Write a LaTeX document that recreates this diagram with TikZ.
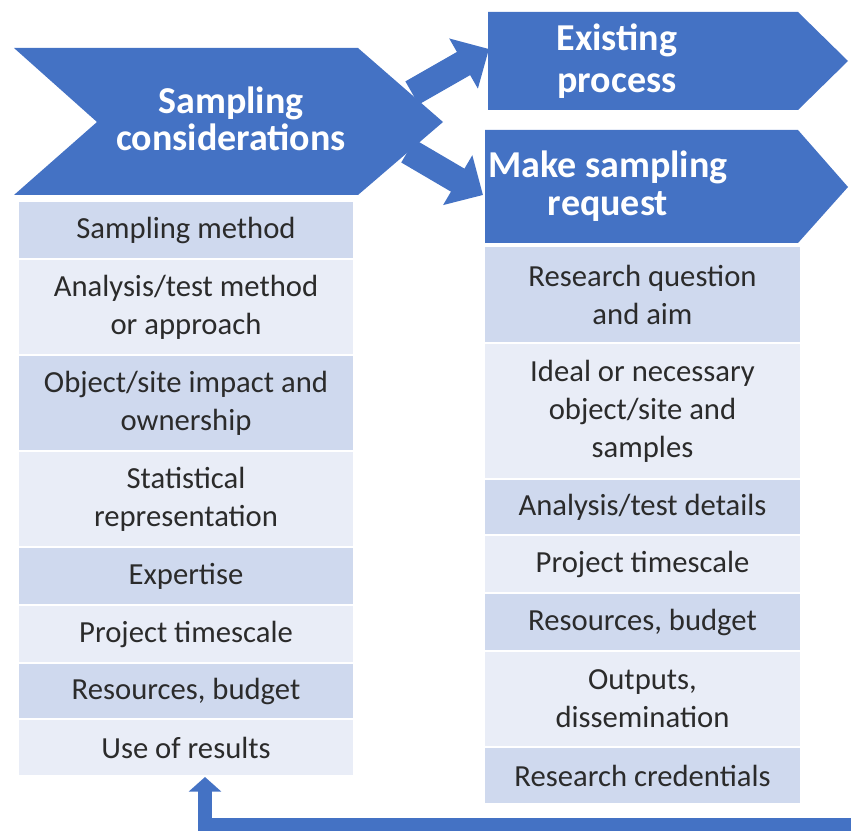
\documentclass[tikz,border=0pt]{standalone}
\usepackage{fontspec}
\setmainfont{Carlito}
\usetikzlibrary{arrows.meta}
\definecolor{obl}{HTML}{4472C4}
\definecolor{rowd}{HTML}{CFD9EE}
\definecolor{rowl}{HTML}{E9EDF7}
\definecolor{txt}{HTML}{2B2B2B}
\tikzset{
  rowbox/.style={inner sep=0pt, outer sep=0pt, align=center, text=txt,
    font=\fontsize{23}{28.5}\selectfont},
  lrow/.style={rowbox, minimum width=250.5pt},
  rrow/.style={rowbox, minimum width=236.25pt},
  dk/.style={fill=rowd},
  lt/.style={fill=rowl},
  head/.style={inner sep=0pt, align=center, text=white,
    font=\fontsize{28.5}{28.5}\bfseries\selectfont},
  chev/.style={fill=obl},
  bigarrow/.style={draw=obl, line width=20pt, -{Triangle[length=22pt, width=42pt]}},
  backarrow/.style={draw=obl, line width=10pt, -{Triangle[length=11pt, width=24pt]}}
}
\begin{document}
\begin{tikzpicture}[x=0.75pt, y=-0.75pt]
\useasboundingbox (0,0) rectangle (851,831);
% block arrows (behind chevrons)
\coordinate (a1s) at (412,93);
\coordinate (a1e) at (489,49);
\coordinate (a2s) at (408,151);
\coordinate (a2e) at (483,195);
\draw[bigarrow] (a1s) -- (a1e);
\draw[bigarrow] (a2s) -- (a2e);
% chevrons
\fill[chev] (14,48) -- (358,48) -- (443,122) -- (358,195) -- (14,195) -- (97,122) -- cycle;
\node[head, font=\fontsize{28.5}{28}\bfseries\selectfont] (sc) at (231,119) {Sampling\\considerations};
\fill[chev] (488,12) -- (798,12) -- (848,61) -- (798,110) -- (488,110) -- cycle;
\node[head, font=\fontsize{28.5}{31}\bfseries\selectfont] (ep) at (617,61) {Existing\\process};
\fill[chev] (485,130) -- (798,130) -- (848,187) -- (798,243) -- (485,243) -- cycle;
\node[head, font=\fontsize{28.5}{29}\bfseries\selectfont] (msr) at (608,186) {Make sampling\\request};
% left table
\node[lrow, dk, minimum height=42pt]   (l1) at (186,230)   {Sampling method};
\node[lrow, lt, minimum height=70.5pt] (l2) at (186,307)   {Analysis/test method\\or approach};
\node[lrow, dk, minimum height=70.5pt] (l3) at (186,403)   {Object/site impact and\\ownership};
\node[lrow, lt, minimum height=70.5pt] (l4) at (186,499)   {Statistical\\representation};
\node[lrow, dk, minimum height=42pt]   (l5) at (186,576)   {Expertise};
\node[lrow, lt, minimum height=42pt]   (l6) at (186,634)   {Project timescale};
\node[lrow, dk, minimum height=40.5pt] (l7) at (186,691)   {Resources, budget};
\node[lrow, lt, minimum height=41.25pt](l8) at (186,747.5) {Use of results};
% right table
\node[rrow, dk, minimum height=71.25pt](r1) at (642.5,294.5) {Research question\\and aim};
\node[rrow, lt, minimum height=100.5pt](r2) at (642.5,411)   {Ideal or necessary\\object/site and\\samples};
\node[rrow, dk, minimum height=40.5pt] (r3) at (642.5,507)   {Analysis/test details};
\node[rrow, lt, minimum height=42pt]   (r4) at (642.5,564)   {Project timescale};
\node[rrow, dk, minimum height=42pt]   (r5) at (642.5,622)   {Resources, budget};
\node[rrow, lt, minimum height=70.5pt] (r6) at (642.5,699)   {Outputs,\\dissemination};
\node[rrow, dk, minimum height=41.25pt](r7) at (642.5,775.5) {Research credentials};
% feedback connector
\coordinate (fb) at (870,825);
\draw[backarrow] (fb) -| ([xshift=14.25pt, yshift=-1.5pt]l8.south);
\end{tikzpicture}
\end{document}
